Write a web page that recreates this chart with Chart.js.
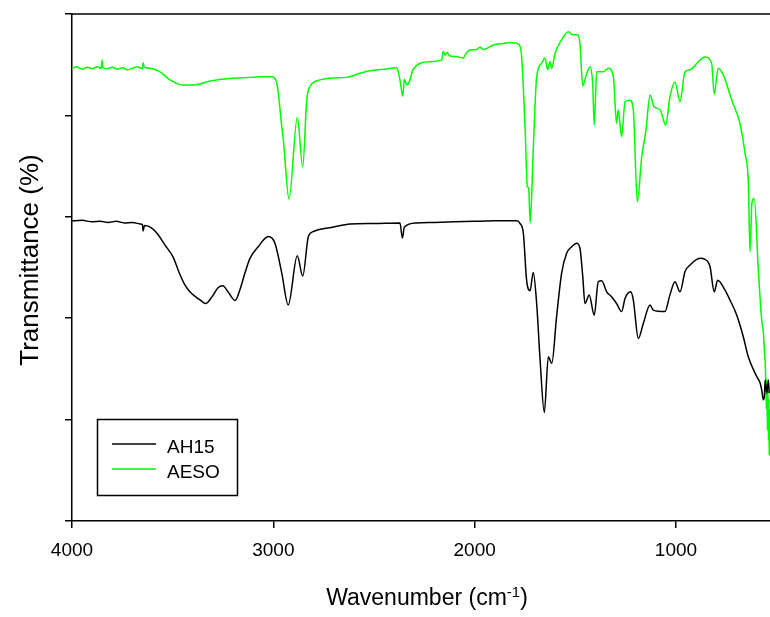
<!DOCTYPE html>
<html>
<head>
<meta charset="utf-8">
<script src="https://cdn.jsdelivr.net/npm/chart.js@4/dist/chart.umd.min.js"></script>
<style>
  html, body { margin: 0; padding: 0; background: #ffffff; }
  canvas { display: block; }
</style>
</head>
<body>
<canvas id="ftir" width="770" height="617"></canvas>
<script>
// FTIR spectra: transmittance (%) versus wavenumber (cm^-1)
const xTickValues = [4000, 3000, 2000, 1000];
const yTickValues = [0, 20, 40, 60, 80, 100];

const ah15Wavenumber = [4000, 3950, 3900, 3860, 3820, 3780, 3740, 3700, 3662, 3650, 3647, 3640, 3613, 3579, 3538, 3497, 3470, 3440, 3414, 3385, 3364, 3336, 3305, 3275, 3251, 3225, 3190, 3166, 3141, 3116, 3075, 3025, 2992, 2958, 2926, 2881, 2854, 2826, 2801, 2700, 2619, 2500, 2371, 2359, 2349, 2288, 2200, 2100, 2000, 1900, 1791, 1775, 1758, 1742, 1725, 1709, 1692, 1675, 1654, 1634, 1617, 1593, 1568, 1543, 1518, 1493, 1477, 1463, 1452, 1431, 1406, 1386, 1369, 1344, 1319, 1295, 1270, 1253, 1225, 1212, 1187, 1162, 1129, 1113, 1055, 1030, 1005, 980, 955, 930, 881, 856, 831, 810, 793, 757, 732, 698, 666, 641, 599, 582, 574, 566, 561, 557, 549, 541, 537];
const ah15Transmittance = [59.2, 59.3, 59.0, 59.1, 58.9, 59.1, 58.8, 58.9, 58.6, 58.5, 57.2, 58.3, 58.0, 56.8, 54.4, 52.0, 49.2, 46.6, 45.2, 44.2, 43.6, 42.9, 44.2, 46.0, 46.4, 45.2, 43.5, 45.6, 48.9, 51.8, 54.1, 56.1, 54.8, 48.9, 42.6, 52.3, 48.3, 56.1, 57.1, 58.0, 58.6, 58.7, 58.8, 55.8, 58.0, 58.8, 58.9, 59.0, 59.1, 59.2, 59.2, 58.7, 56.7, 47.5, 45.4, 49.0, 42.9, 31.8, 21.4, 32.4, 31.1, 40.3, 48.9, 52.8, 54.1, 54.8, 53.8, 48.2, 42.9, 44.6, 40.6, 47.2, 47.4, 45.2, 44.2, 42.9, 41.3, 43.9, 45.2, 43.6, 36.0, 39.0, 42.6, 41.6, 41.3, 44.6, 47.2, 45.2, 49.2, 50.5, 51.8, 51.6, 50.2, 45.2, 47.5, 45.6, 43.6, 40.6, 36.4, 32.4, 28.5, 27.2, 25.8, 23.9, 24.5, 27.8, 25.2, 27.8, 25.2];

const aesoWavenumber = [4000, 3975, 3950, 3925, 3900, 3875, 3855, 3851, 3847, 3825, 3800, 3775, 3750, 3725, 3700, 3675, 3650, 3647, 3640, 3613, 3563, 3513, 3449, 3389, 3315, 3215, 3116, 3066, 3008, 2983, 2958, 2950, 2922, 2881, 2854, 2834, 2818, 2768, 2702, 2636, 2570, 2520, 2454, 2387, 2371, 2357, 2349, 2338, 2325, 2305, 2222, 2164, 2156, 2147, 2136, 2123, 2089, 2056, 2048, 2023, 1990, 1973, 1957, 1907, 1858, 1825, 1791, 1771, 1750, 1738, 1732, 1724, 1709, 1692, 1667, 1651, 1637, 1626, 1617, 1601, 1568, 1535, 1513, 1490, 1477, 1463, 1447, 1427, 1414, 1406, 1394, 1361, 1336, 1311, 1295, 1287, 1270, 1253, 1228, 1212, 1192, 1170, 1149, 1129, 1109, 1079, 1051, 1030, 1005, 980, 955, 930, 881, 856, 823, 810, 790, 765, 723, 682, 657, 641, 632, 623, 611, 591, 574, 566, 560, 556, 553, 551, 549, 546, 544, 541, 539, 537, 535];
const aesoTransmittance = [89.3, 89.6, 89.1, 89.5, 89.2, 89.6, 89.3, 90.9, 89.4, 89.2, 89.5, 89.1, 89.4, 89.0, 89.3, 89.6, 89.2, 90.4, 89.5, 89.3, 88.6, 87.0, 86.0, 86.0, 86.8, 87.3, 87.5, 87.6, 87.6, 86.4, 77.8, 75.1, 63.5, 79.6, 69.9, 83.0, 85.7, 87.0, 87.4, 87.5, 88.3, 88.8, 89.1, 89.4, 87.0, 83.8, 87.2, 86.0, 86.6, 89.1, 90.6, 90.9, 92.6, 91.9, 92.4, 91.7, 91.6, 91.3, 91.9, 92.9, 93.0, 93.5, 93.0, 93.9, 94.2, 94.4, 94.2, 93.2, 78.0, 65.9, 65.7, 58.8, 73.2, 87.6, 90.3, 91.3, 89.0, 90.6, 89.3, 92.2, 94.9, 96.5, 95.9, 95.9, 94.2, 85.8, 87.8, 89.6, 86.3, 78.1, 88.6, 88.6, 89.3, 87.6, 78.4, 81.1, 75.8, 82.7, 83.0, 81.1, 63.0, 71.9, 77.1, 84.0, 81.7, 81.1, 78.1, 83.7, 86.6, 82.7, 88.6, 89.0, 90.9, 91.5, 90.3, 84.2, 89.3, 88.0, 83.0, 78.4, 72.5, 67.1, 53.1, 62.7, 63.6, 49.5, 39.6, 37.1, 33.0, 30.5, 26.0, 22.0, 28.0, 18.0, 27.0, 16.0, 24.0, 13.0, 22.0];

const seriesNames = ['AH15', 'AESO'];
const seriesColors = ['#000000', '#00ff00'];

const FONT = "'Liberation Sans', Arial, Helvetica, sans-serif";

function toPoints(xs, ys) {
  return xs.map((x, i) => ({ x: x, y: ys[i] }));
}

// Frame top edge, axis titles and the boxed legend
const decorations = {
  id: 'decorations',
  afterDraw(chart) {
    const ctx = chart.ctx;
    const a = chart.chartArea;
    ctx.save();
    ctx.strokeStyle = '#000';
    ctx.lineWidth = 1.5;
    ctx.beginPath();
    ctx.moveTo(a.left, a.top);
    ctx.lineTo(a.right, a.top);
    ctx.stroke();

    ctx.fillStyle = '#000';

    // y-axis title
    ctx.save();
    ctx.font = '26px ' + FONT;
    ctx.translate(38, 260);
    ctx.rotate(-Math.PI / 2);
    ctx.textAlign = 'center';
    ctx.textBaseline = 'alphabetic';
    ctx.fillText('Transmittance (%)', 0, 0);
    ctx.restore();

    // x-axis title with superscript exponent
    const mainFont = '23px ' + FONT;
    const supFont = '15px ' + FONT;
    const partA = 'Wavenumber (cm';
    const partSup = '-1';
    const partB = ')';
    ctx.font = mainFont;
    const wA = ctx.measureText(partA).width;
    const wB = ctx.measureText(partB).width;
    ctx.font = supFont;
    const wS = ctx.measureText(partSup).width;
    const total = wA + wS + wB;
    const x0 = 427 - total / 2;
    const base = 605;
    ctx.textAlign = 'left';
    ctx.textBaseline = 'alphabetic';
    ctx.font = mainFont;
    ctx.fillText(partA, x0, base);
    ctx.font = supFont;
    ctx.fillText(partSup, x0 + wA, base - 8);
    ctx.font = mainFont;
    ctx.fillText(partB, x0 + wA + wS, base);

    // legend box
    ctx.lineWidth = 1.5;
    ctx.strokeStyle = '#000';
    ctx.strokeRect(97.5, 419.5, 140, 76);
    ctx.font = '19px ' + FONT;
    chart.data.datasets.forEach((ds, i) => {
      const y = 444 + i * 25;
      ctx.strokeStyle = ds.borderColor;
      ctx.lineWidth = 1.5;
      ctx.beginPath();
      ctx.moveTo(112, y);
      ctx.lineTo(156, y);
      ctx.stroke();
      ctx.fillStyle = '#000';
      ctx.fillText(ds.label, 167, y + 8.5);
    });
    ctx.restore();
  }
};

const axisGrid = {
  display: true,
  drawOnChartArea: false,
  drawTicks: true,
  tickLength: 7,
  color: '#000',
  lineWidth: 1.5
};
const axisBorder = { display: true, color: '#000', width: 1.5 };

new Chart(document.getElementById('ftir').getContext('2d'), {
  type: 'line',
  data: {
    datasets: [
      {
        label: seriesNames[0],
        data: toPoints(ah15Wavenumber, ah15Transmittance),
        borderColor: seriesColors[0],
        borderWidth: 1.5,
        pointRadius: 0,
        cubicInterpolationMode: 'monotone',
        fill: false
      },
      {
        label: seriesNames[1],
        data: toPoints(aesoWavenumber, aesoTransmittance),
        borderColor: seriesColors[1],
        borderWidth: 1.5,
        pointRadius: 0,
        cubicInterpolationMode: 'monotone',
        fill: false
      }
    ]
  },
  options: {
    responsive: false,
    animation: false,
    devicePixelRatio: 1,
    layout: { padding: { top: 14, right: 0, bottom: 0, left: 0 } },
    plugins: {
      legend: { display: false },
      tooltip: { enabled: false },
      title: { display: false }
    },
    scales: {
      x: {
        type: 'linear',
        reverse: true,
        min: 533,
        max: 4000,
        afterBuildTicks: s => { s.ticks = xTickValues.map(v => ({ value: v })); },
        afterFit: s => { s.height = 96; },
        grid: axisGrid,
        border: axisBorder,
        ticks: {
          color: '#000',
          font: { family: FONT, size: 19 },
          padding: 11,
          maxRotation: 0,
          autoSkip: false,
          callback: v => String(v)
        }
      },
      y: {
        type: 'linear',
        min: 0,
        max: 100,
        afterBuildTicks: s => { s.ticks = yTickValues.map(v => ({ value: v })); },
        afterFit: s => { s.width = 72; },
        grid: axisGrid,
        border: axisBorder,
        ticks: { display: false }
      }
    }
  },
  plugins: [decorations]
});
</script>
</body>
</html>
